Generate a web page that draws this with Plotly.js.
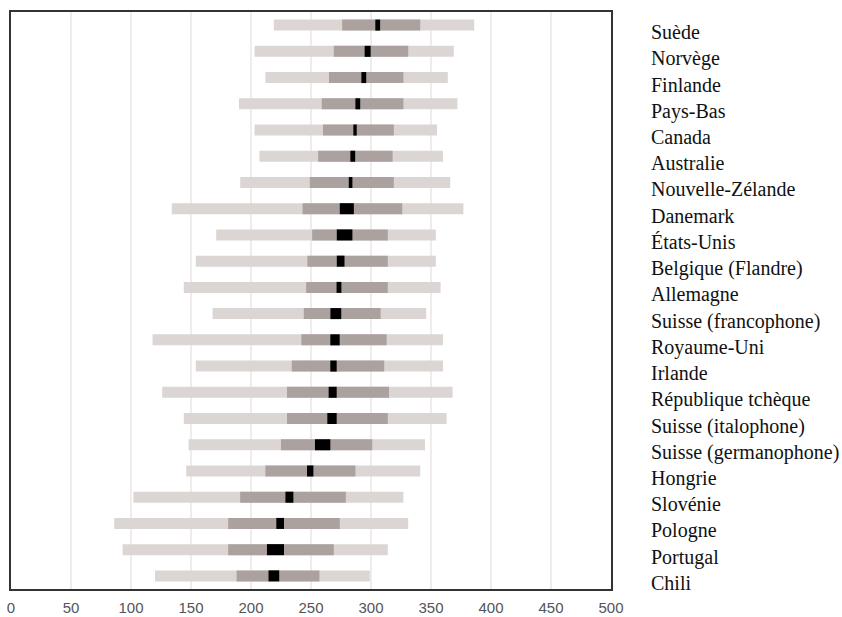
<!DOCTYPE html>
<html>
<head>
<meta charset="utf-8">
<script src="https://cdn.plot.ly/plotly-3.0.1.min.js"></script>
<style>html,body{margin:0;padding:0;background:#fff;}#chart{width:842px;height:617px;}</style>
</head>
<body>
<div id="chart"></div>
<script>
// Countries, top to bottom
const countries = ["Suède","Norvège","Finlande","Pays-Bas","Canada","Australie","Nouvelle-Zélande","Danemark","États-Unis","Belgique (Flandre)","Allemagne","Suisse (francophone)","Royaume-Uni","Irlande","République tchèque","Suisse (italophone)","Suisse (germanophone)","Hongrie","Slovénie","Pologne","Portugal","Chili"];
// 5th percentile
const p5  = [219,203,212,190,203,207,191,134,171,154,144,168,118,154,126,144,148,146,102,86,93,120];
// 25th percentile
const p25 = [276,269,265,259,260,256,249,243,251,247,246,244,242,234,230,230,225,212,191,181,181,188];
// 75th percentile
const p75 = [341,331,327,327,319,318,319,326,314,314,314,308,313,311,315,314,301,287,279,274,269,257];
// 95th percentile
const p95 = [386,369,364,372,355,360,366,377,354,354,358,346,360,360,368,363,345,341,327,331,314,299];
// mean confidence interval (low, high)
const ciLow  = [303.6,294.7,292.0,287.0,285.3,282.8,281.5,274.0,271.5,271.5,271.3,266.2,266.1,266.1,264.7,263.6,253.3,246.7,228.7,221.1,213.3,214.6];
const ciHigh = [307.6,299.7,296.0,291.0,288.1,286.8,284.5,285.7,284.5,277.9,275.3,275.2,273.9,271.4,271.4,271.4,266.1,252.0,235.3,227.5,227.5,223.5];

const diff = (a,b)=>a.map((v,i)=>v-b[i]);
const common = {type:'bar', orientation:'h', y:countries, width:0.42, hoverinfo:'skip'};

const traces = [
  Object.assign({}, common, {base:p5,  x:diff(p95,p5),  marker:{color:'#dbd6d3', line:{width:0}}}),
  Object.assign({}, common, {base:p25, x:diff(p75,p25), marker:{color:'#aba19f', line:{width:0}}}),
  Object.assign({}, common, {base:ciLow, x:diff(ciHigh,ciLow), marker:{color:'#000000', line:{width:0}}})
];

const layout = {
  width:842, height:617,
  margin:{l:11, r:231, t:12, b:28, pad:0},
  paper_bgcolor:'#fff', plot_bgcolor:'#fff',
  showlegend:false,
  barmode:'overlay',
  xaxis:{
    range:[0,500], tickvals:[0,50,100,150,200,250,300,350,400,450,500],
    showgrid:true, gridcolor:'#f0ecec', gridwidth:2,
    zeroline:false, showline:true, mirror:true, linecolor:'#333', linewidth:2,
    ticks:'', ticklabelstandoff:4,
    tickfont:{family:'Liberation Sans, Arial, sans-serif', size:15, color:'#555'}
  },
  yaxis:{
    type:'category', autorange:'reversed', side:'right',
    showgrid:false, zeroline:false, showline:true, mirror:true, linecolor:'#333', linewidth:2,
    ticks:'', ticklabelstandoff:34, ticklabelshift:-7,
    tickfont:{family:'Liberation Serif, Times New Roman, serif', size:20, color:'#111'}
  }
};

Plotly.newPlot('chart', traces, layout, {displayModeBar:false, staticPlot:true});
</script>
</body>
</html>
